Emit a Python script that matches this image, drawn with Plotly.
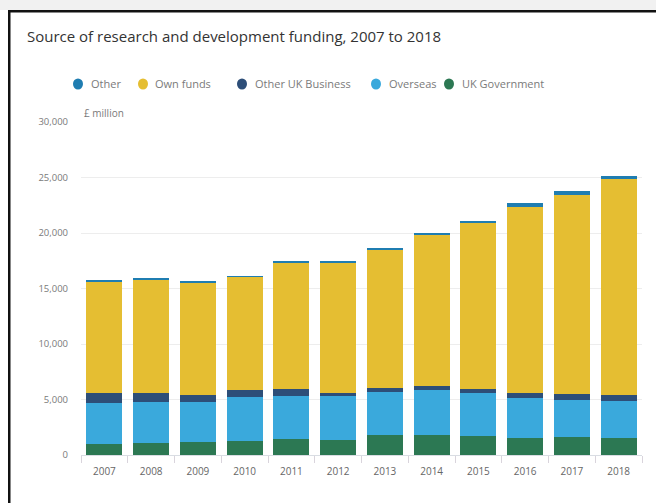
import plotly.graph_objects as go

# Source of R&D funding, £ million
years = ["2007", "2008", "2009", "2010", "2011", "2012",
         "2013", "2014", "2015", "2016", "2017", "2018"]
uk_government = [1000, 1085, 1205, 1295, 1410, 1385, 1840, 1840, 1685, 1565, 1655, 1565]
overseas = [3700, 3670, 3550, 3890, 3950, 3890, 3800, 4040, 3860, 3615, 3315, 3315]
other_uk_business = [905, 850, 670, 660, 570, 270, 390, 360, 390, 420, 510, 545]
own_funds = [10060, 10240, 10130, 10210, 11400, 11790, 12450, 13650, 14950, 16780, 17930, 19440]
other = [50, 50, 50, 60, 80, 80, 150, 150, 180, 300, 390, 300]

y_ticks = [0, 5000, 10000, 15000, 20000, 25000, 30000]

series = [
    ("UK Government", uk_government, "#2c7853"),
    ("Overseas", overseas, "#3aa9dc"),
    ("Other UK Business", other_uk_business, "#2d4e78"),
    ("Own funds", own_funds, "#e5be32"),
    ("Other", other, "#1f7db1"),
]
legend_order = ["Other", "Own funds", "Other UK Business", "Overseas", "UK Government"]
colour_of = {name: col for name, _, col in series}

FONT = "Open Sans, Noto Sans, DejaVu Sans, sans-serif"
W, H = 656, 503
L, R, T, B = 81, 14, 122, 48
PW, PH = W - L - R, H - T - B


def px_x(px):
    return (px - L) / PW


def px_y(py):
    return (H - B - py) / PH


fig = go.Figure()
for name, vals, col in series:
    fig.add_trace(go.Bar(
        x=years, y=vals, name=name, marker_color=col,
        marker_line_width=0, showlegend=False,
    ))

shapes = []
annotations = []

# Hand-placed legend row with round markers
legend_pos = [(78, 89), (143, 153), (242, 253), (376, 387), (449, 460)]
for name, (cx, tx) in zip(legend_order, legend_pos):
    shapes.append(dict(
        type="circle", xref="paper", yref="paper",
        xsizemode="pixel", ysizemode="pixel",
        xanchor=px_x(cx), yanchor=px_y(84),
        x0=-5, x1=5, y0=-5.5, y1=5.5,
        fillcolor=colour_of[name], line_width=0,
    ))
    annotations.append(dict(
        text=name, xref="paper", yref="paper",
        x=px_x(tx), y=px_y(84), xanchor="left", yanchor="middle",
        showarrow=False, font=dict(family=FONT, size=11, color="#7a7a7a"),
    ))

# Unit label above the top gridline
annotations.append(dict(
    text="£ million", xref="paper", yref="paper",
    x=px_x(82), y=px_y(113), xanchor="left", yanchor="middle",
    showarrow=False, font=dict(family=FONT, size=10, color="#7a7a7a"),
))

# Page frame: faint shade at the very top, dark rule on top and left
shapes.append(dict(type="rect", xref="paper", yref="paper",
                   x0=px_x(0), x1=px_x(W), y0=px_y(10), y1=px_y(0),
                   fillcolor="#f1f1f1", line_width=0, layer="below"))
shapes.append(dict(type="rect", xref="paper", yref="paper",
                   x0=px_x(8), x1=px_x(W), y0=px_y(12.5), y1=px_y(10),
                   fillcolor="#111111", line_width=0))
shapes.append(dict(type="rect", xref="paper", yref="paper",
                   x0=px_x(8), x1=px_x(10.5), y0=px_y(H), y1=px_y(10),
                   fillcolor="#111111", line_width=0))

fig.update_layout(
    width=W, height=H,
    margin=dict(l=L, r=R, t=T, b=B),
    barmode="stack", bargap=0.23,
    paper_bgcolor="white", plot_bgcolor="white",
    font=dict(family=FONT, color="#666666"),
    title=dict(
        text="Source of research and development funding, 2007 to 2018",
        x=27 / W, xanchor="left", xref="container",
        y=1 - 37 / H, yanchor="middle", yref="container",
        font=dict(family=FONT, size=15, color="#333333"),
    ),
    shapes=shapes,
    annotations=annotations,
)
fig.update_xaxes(
    type="category", tickson="boundaries",
    ticks="outside", ticklen=7, tickcolor="#d9d4dc", tickwidth=1,
    showline=True, linecolor="#d9dde3", linewidth=1,
    showgrid=False, ticklabelstandoff=7,
    tickfont=dict(family=FONT, size=10, color="#666666"),
)
fig.update_yaxes(
    range=[0, 30000], tickvals=y_ticks, tickformat=",",
    showgrid=True, gridcolor="#ededed", gridwidth=1,
    zeroline=False, showline=False, ticks="",
    ticklabelstandoff=12,
    tickfont=dict(family=FONT, size=9.5, color="#7a7a7a"),
)

fig.write_html(
    "out.html",
    config={"displayModeBar": False},
    post_script="document.documentElement.style.overflow='hidden';"
                "document.body.style.margin='0';"
                "document.body.style.overflow='hidden';",
)
